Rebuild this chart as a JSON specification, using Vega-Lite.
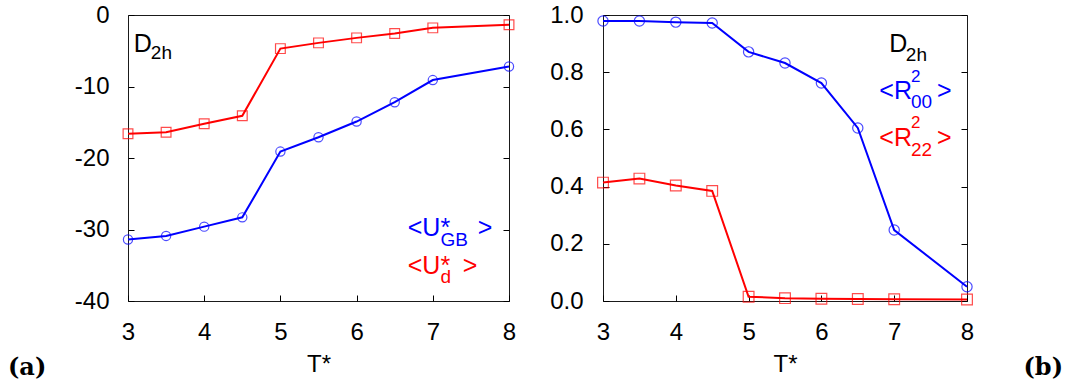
{
  "$schema": "https://vega.github.io/schema/vega-lite/v6.json",
  "padding": {"left": 7, "top": 2, "right": 0, "bottom": 0},
  "spacing": 32,
  "config": {
    "view": {"stroke": "#1a1a1a", "strokeWidth": 1},
    "font": "Liberation Sans",
    "axis": {"grid": false, "domain": false, "tickColor": "#000", "tickSize": -6, "tickWidth": 1, "labelFont": "Liberation Sans", "labelFontSize": 24, "labelColor": "#000", "titleFont": "Liberation Sans", "titleFontSize": 24, "titleFontWeight": "normal", "titleColor": "#000", "labelPadding": 25, "labelFlush": false},
    "title": {"font": "DejaVu Serif", "fontWeight": "bold", "fontSize": 24, "color": "#000"}
  },
  "datasets": {
    "series": [
      {"panel": "a", "series": "U_GB", "T": 3, "v": -31.4},
      {"panel": "a", "series": "U_GB", "T": 3.5, "v": -30.9},
      {"panel": "a", "series": "U_GB", "T": 4, "v": -29.6},
      {"panel": "a", "series": "U_GB", "T": 4.5, "v": -28.3},
      {"panel": "a", "series": "U_GB", "T": 5, "v": -19.1},
      {"panel": "a", "series": "U_GB", "T": 5.5, "v": -17.1},
      {"panel": "a", "series": "U_GB", "T": 6, "v": -14.9},
      {"panel": "a", "series": "U_GB", "T": 6.5, "v": -12.2},
      {"panel": "a", "series": "U_GB", "T": 7, "v": -9.1},
      {"panel": "a", "series": "U_GB", "T": 8, "v": -7.2},
      {"panel": "a", "series": "U_d", "T": 3, "v": -16.6},
      {"panel": "a", "series": "U_d", "T": 3.5, "v": -16.4},
      {"panel": "a", "series": "U_d", "T": 4, "v": -15.2},
      {"panel": "a", "series": "U_d", "T": 4.5, "v": -14.1},
      {"panel": "a", "series": "U_d", "T": 5, "v": -4.7},
      {"panel": "a", "series": "U_d", "T": 5.5, "v": -3.9},
      {"panel": "a", "series": "U_d", "T": 6, "v": -3.2},
      {"panel": "a", "series": "U_d", "T": 6.5, "v": -2.6},
      {"panel": "a", "series": "U_d", "T": 7, "v": -1.8},
      {"panel": "a", "series": "U_d", "T": 8, "v": -1.35},
      {"panel": "b", "series": "R00", "T": 3, "v": 0.979},
      {"panel": "b", "series": "R00", "T": 3.5, "v": 0.979},
      {"panel": "b", "series": "R00", "T": 4, "v": 0.975},
      {"panel": "b", "series": "R00", "T": 4.5, "v": 0.972},
      {"panel": "b", "series": "R00", "T": 5, "v": 0.871},
      {"panel": "b", "series": "R00", "T": 5.5, "v": 0.832},
      {"panel": "b", "series": "R00", "T": 6, "v": 0.762},
      {"panel": "b", "series": "R00", "T": 6.5, "v": 0.605},
      {"panel": "b", "series": "R00", "T": 7, "v": 0.248},
      {"panel": "b", "series": "R00", "T": 8, "v": 0.05},
      {"panel": "b", "series": "R22", "T": 3, "v": 0.414},
      {"panel": "b", "series": "R22", "T": 3.5, "v": 0.428},
      {"panel": "b", "series": "R22", "T": 4, "v": 0.404},
      {"panel": "b", "series": "R22", "T": 4.5, "v": 0.385},
      {"panel": "b", "series": "R22", "T": 5, "v": 0.015},
      {"panel": "b", "series": "R22", "T": 5.5, "v": 0.01},
      {"panel": "b", "series": "R22", "T": 6, "v": 0.008},
      {"panel": "b", "series": "R22", "T": 6.5, "v": 0.007},
      {"panel": "b", "series": "R22", "T": 7, "v": 0.006},
      {"panel": "b", "series": "R22", "T": 8, "v": 0.005}
    ],
    "notes": [
      {"panel": "a", "role": "big", "series": "label", "label": "D", "T": 3.075, "v": -5.13},
      {"panel": "a", "role": "sub", "series": "label", "label": "2h", "T": 3.3, "v": -6.1},
      {"panel": "a", "role": "big", "series": "U_GB", "label": "<U*", "T": 6.671, "v": -30.91},
      {"panel": "a", "role": "sub", "series": "U_GB", "label": "GB", "T": 7.1, "v": -32.31},
      {"panel": "a", "role": "big", "series": "U_GB", "label": ">", "T": 7.589, "v": -30.91},
      {"panel": "a", "role": "big", "series": "U_d", "label": "<U*", "T": 6.671, "v": -36.22},
      {"panel": "a", "role": "sub", "series": "U_d", "label": "d", "T": 7.1, "v": -37.48},
      {"panel": "a", "role": "big", "series": "U_d", "label": ">", "T": 7.392, "v": -36.22},
      {"panel": "b", "role": "big", "series": "label", "label": "D", "T": 6.933, "v": 0.872},
      {"panel": "b", "role": "sub", "series": "label", "label": "2h", "T": 7.16, "v": 0.839},
      {"panel": "b", "role": "big", "series": "R00", "label": "<R", "T": 6.795, "v": 0.705},
      {"panel": "b", "role": "sup", "series": "R00", "label": "2", "T": 7.231, "v": 0.766},
      {"panel": "b", "role": "sub", "series": "R00", "label": "00", "T": 7.231, "v": 0.674},
      {"panel": "b", "role": "big", "series": "R00", "label": ">", "T": 7.588, "v": 0.705},
      {"panel": "b", "role": "big", "series": "R22", "label": "<R", "T": 6.795, "v": 0.542},
      {"panel": "b", "role": "sup", "series": "R22", "label": "2", "T": 7.231, "v": 0.605},
      {"panel": "b", "role": "sub", "series": "R22", "label": "22", "T": 7.231, "v": 0.507},
      {"panel": "b", "role": "big", "series": "R22", "label": ">", "T": 7.588, "v": 0.542}
    ]
  },
  "hconcat": [
    {
      "width": 381,
      "height": 286,
      "title": {"text": "(a)", "orient": "bottom", "anchor": "start", "frame": "group", "dx": -120, "offset": -20},
      "layer": [
        {
          "data": {"name": "series"},
          "transform": [{"filter": "datum.panel == 'a'"}],
          "mark": {"type": "line", "strokeWidth": 2},
          "encoding": {
            "x": {"field": "T", "type": "quantitative", "scale": {"domain": [3, 8], "nice": false, "zero": false}, "axis": {"values": [3, 4, 5, 6, 7, 8], "title": "T*", "titlePadding": 8, "labelExpr": "'' + datum.value"}},
            "y": {"field": "v", "type": "quantitative", "scale": {"domain": [-40, 0], "nice": false}, "axis": {"orient": "left", "values": [-40, -30, -20, -10, 0], "title": null, "labelExpr": "'' + datum.value"}},
            "color": {"field": "series", "type": "nominal", "scale": {"domain": ["U_GB", "U_d", "R00", "R22", "label"], "range": ["#0000ff", "#ff0000", "#0000ff", "#ff0000", "#000000"]}, "legend": null}
          }
        },
        {
          "data": {"name": "series"},
          "transform": [{"filter": "datum.panel == 'a'"}],
          "mark": {"type": "point", "filled": false, "strokeWidth": 1.2},
          "encoding": {
            "x": {"field": "T", "type": "quantitative"},
            "y": {"field": "v", "type": "quantitative", "axis": {"orient": "right", "labels": false, "title": null, "values": [-40, -30, -20, -10, 0]}},
            "color": {"field": "series", "type": "nominal", "legend": null},
            "shape": {"field": "series", "type": "nominal", "scale": {"domain": ["U_GB", "U_d"], "range": ["circle", "square"]}, "legend": null},
            "size": {"field": "series", "type": "nominal", "scale": {"domain": ["U_GB", "U_d"], "range": [85, 115]}, "legend": null}
          }
        },
        {
          "data": {"name": "notes"},
          "transform": [{"filter": "datum.panel == 'a' && datum.role == 'big'"}],
          "mark": {"type": "text", "align": "left", "baseline": "alphabetic", "fontSize": 25, "font": "Liberation Sans"},
          "encoding": {
            "x": {"field": "T", "type": "quantitative"},
            "y": {"field": "v", "type": "quantitative", "axis": null},
            "text": {"field": "label"},
            "color": {"field": "series", "type": "nominal", "legend": null}
          }
        },
        {
          "data": {"name": "notes"},
          "transform": [{"filter": "datum.panel == 'a' && datum.role == 'sub'"}],
          "mark": {"type": "text", "align": "left", "baseline": "alphabetic", "fontSize": 19, "font": "Liberation Sans"},
          "encoding": {
            "x": {"field": "T", "type": "quantitative"},
            "y": {"field": "v", "type": "quantitative", "axis": null},
            "text": {"field": "label"},
            "color": {"field": "series", "type": "nominal", "legend": null}
          }
        }
      ],
      "resolve": {"axis": {"y": "independent"}}
    },
    {
      "width": 364,
      "height": 286,
      "title": {"text": "(b)", "orient": "bottom", "anchor": "end", "frame": "group", "dx": 96, "offset": -20},
      "layer": [
        {
          "data": {"name": "series"},
          "transform": [{"filter": "datum.panel == 'b'"}],
          "mark": {"type": "line", "strokeWidth": 2},
          "encoding": {
            "x": {"field": "T", "type": "quantitative", "scale": {"domain": [3, 8], "nice": false, "zero": false}, "axis": {"values": [3, 4, 5, 6, 7, 8], "title": "T*", "titlePadding": 8, "labelExpr": "'' + datum.value"}},
            "y": {"field": "v", "type": "quantitative", "scale": {"domain": [0, 1], "nice": false}, "axis": {"orient": "left", "values": [0, 0.2, 0.4, 0.6, 0.8, 1], "title": null, "labelExpr": "format(datum.value, '.1f')", "labelPadding": 26}},
            "color": {"field": "series", "type": "nominal", "scale": {"domain": ["U_GB", "U_d", "R00", "R22", "label"], "range": ["#0000ff", "#ff0000", "#0000ff", "#ff0000", "#000000"]}, "legend": null}
          }
        },
        {
          "data": {"name": "series"},
          "transform": [{"filter": "datum.panel == 'b'"}],
          "mark": {"type": "point", "filled": false, "strokeWidth": 1.2},
          "encoding": {
            "x": {"field": "T", "type": "quantitative"},
            "y": {"field": "v", "type": "quantitative", "axis": {"orient": "right", "labels": false, "title": null, "values": [0, 0.2, 0.4, 0.6, 0.8, 1]}},
            "color": {"field": "series", "type": "nominal", "legend": null},
            "shape": {"field": "series", "type": "nominal", "scale": {"domain": ["R00", "R22"], "range": ["circle", "square"]}, "legend": null},
            "size": {"field": "series", "type": "nominal", "scale": {"domain": ["R00", "R22"], "range": [85, 115]}, "legend": null}
          }
        },
        {
          "data": {"name": "notes"},
          "transform": [{"filter": "datum.panel == 'b' && datum.role == 'big'"}],
          "mark": {"type": "text", "align": "left", "baseline": "alphabetic", "fontSize": 25, "font": "Liberation Sans"},
          "encoding": {
            "x": {"field": "T", "type": "quantitative"},
            "y": {"field": "v", "type": "quantitative", "axis": null},
            "text": {"field": "label"},
            "color": {"field": "series", "type": "nominal", "legend": null}
          }
        },
        {
          "data": {"name": "notes"},
          "transform": [{"filter": "datum.panel == 'b' && datum.role == 'sub'"}],
          "mark": {"type": "text", "align": "left", "baseline": "alphabetic", "fontSize": 19, "font": "Liberation Sans"},
          "encoding": {
            "x": {"field": "T", "type": "quantitative"},
            "y": {"field": "v", "type": "quantitative", "axis": null},
            "text": {"field": "label"},
            "color": {"field": "series", "type": "nominal", "legend": null}
          }
        },
        {
          "data": {"name": "notes"},
          "transform": [{"filter": "datum.panel == 'b' && datum.role == 'sup'"}],
          "mark": {"type": "text", "align": "left", "baseline": "alphabetic", "fontSize": 17, "font": "Liberation Sans"},
          "encoding": {
            "x": {"field": "T", "type": "quantitative"},
            "y": {"field": "v", "type": "quantitative", "axis": null},
            "text": {"field": "label"},
            "color": {"field": "series", "type": "nominal", "legend": null}
          }
        }
      ],
      "resolve": {"axis": {"y": "independent"}}
    }
  ]
}
